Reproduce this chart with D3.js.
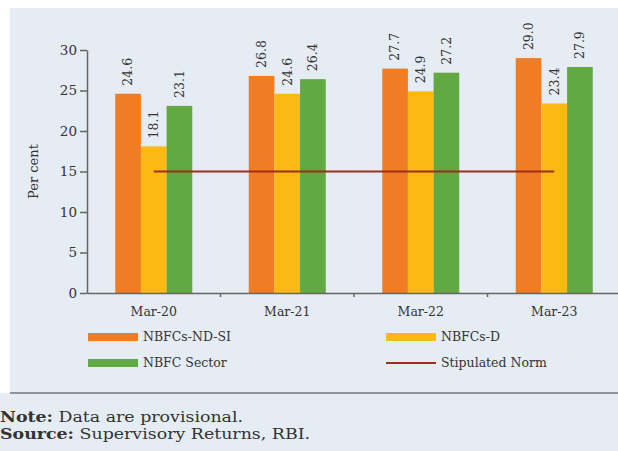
<!DOCTYPE html>
<html>
<head>
<meta charset="utf-8">
<script src="https://cdn.jsdelivr.net/npm/d3@7"></script>
<style>
  body { margin: 0; background: #fff; }
  svg { display: block; }
  text { font-family: "DejaVu Serif", "Liberation Serif", serif; fill: #333; }
</style>
</head>
<body>
<div id="chart"></div>
<script>
const width = 618;
const height = 451;

// data
const periods = ['Mar-20', 'Mar-21', 'Mar-22', 'Mar-23'];
const seriesNames = ['NBFCs-ND-SI', 'NBFCs-D', 'NBFC Sector'];
const ndsi = [24.6, 26.8, 27.7, 29.0];
const nbfcD = [18.1, 24.6, 24.9, 23.4];
const sector = [23.1, 26.4, 27.2, 27.9];
const norm = [15, 15, 15, 15];
const yTicks = [0, 5, 10, 15, 20, 25, 30];

const colors = ['#f07d23', '#fdb913', '#62a843'];
const normColor = '#9c2f18';
const axisColor = '#666';

const rows = periods.map((p, i) => ({ period: p, vals: [ndsi[i], nbfcD[i], sector[i]] }));

const svg = d3.select('#chart')
  .append('svg')
  .attr('width', width)
  .attr('height', height);

// panel background
svg.append('rect')
  .attr('x', 10).attr('y', 8)
  .attr('width', width - 10).attr('height', 385)
  .attr('fill', '#e6ecf3');
svg.append('rect')
  .attr('x', 0).attr('y', 393)
  .attr('width', width).attr('height', height - 393)
  .attr('fill', '#e6ecf3');
svg.append('line')
  .attr('x1', 10).attr('x2', width)
  .attr('y1', 393).attr('y2', 393)
  .attr('stroke', '#8d939b').attr('stroke-width', 2);

const plotL = 87;
const plotR = 621;
const plotT = 50;
const plotB = 293;

const x = d3.scaleBand().domain(periods).range([plotL, plotR]);
const xs = d3.scaleBand().domain(seriesNames).range([0, x.bandwidth()]).paddingOuter(1.1);
const y = d3.scaleLinear().domain([0, 30]).range([plotB, plotT]);

// bars
const groups = svg.selectAll('g.grp').data(rows)
  .enter().append('g')
  .attr('class', 'grp')
  .attr('transform', d => `translate(${x(d.period)},0)`);

groups.selectAll('rect').data(d => d.vals)
  .enter().append('rect')
  .attr('x', (d, i) => xs(seriesNames[i]))
  .attr('width', xs.bandwidth())
  .attr('y', d => y(d))
  .attr('height', d => plotB - y(d))
  .attr('fill', (d, i) => colors[i]);

groups.selectAll('text.val').data(d => d.vals)
  .enter().append('text')
  .attr('class', 'val')
  .attr('transform', (d, i) => `translate(${xs(seriesNames[i]) + xs.bandwidth() / 2},${y(d) - 8}) rotate(-90)`)
  .attr('dy', '0.35em')
  .attr('text-anchor', 'start')
  .style('font-size', '12.5px')
  .text(d => d.toFixed(1));

// stipulated norm line
const line = d3.line()
  .x((d, i) => x(periods[i]) + x.bandwidth() / 2)
  .y(d => y(d));

svg.append('path')
  .datum(norm)
  .attr('d', line)
  .attr('fill', 'none')
  .attr('stroke', normColor)
  .attr('stroke-width', 2);

// axes
const yAxis = d3.axisLeft(y).tickValues(yTicks).tickSize(7).tickPadding(3).tickSizeOuter(0);
const yG = svg.append('g')
  .attr('transform', `translate(${plotL},0)`)
  .call(yAxis);
yG.select('.domain').attr('stroke', axisColor).attr('stroke-width', 1.5);
yG.selectAll('.tick line').attr('stroke', axisColor).attr('stroke-width', 1.5);
yG.selectAll('.tick text')
  .style('font-family', '"DejaVu Serif", serif')
  .style('font-size', '13.5px')
  .attr('fill', '#444');

const xG = svg.append('g')
  .attr('transform', `translate(0,${plotB})`)
  .call(d3.axisBottom(x).tickSize(0).tickSizeOuter(0).tickPadding(14));
xG.select('.domain').attr('stroke', axisColor).attr('stroke-width', 1.5);
xG.selectAll('.tick text')
  .style('font-family', '"DejaVu Serif", serif')
  .style('font-size', '12.5px')
  .attr('fill', '#333');

// separators between categories
xG.selectAll('line.sep').data(periods.slice(1))
  .enter().append('line')
  .attr('class', 'sep')
  .attr('x1', d => x(d)).attr('x2', d => x(d))
  .attr('y1', 0).attr('y2', 4)
  .attr('stroke', axisColor).attr('stroke-width', 1.5);

svg.append('text')
  .attr('transform', `translate(33,${y(15)}) rotate(-90)`)
  .attr('text-anchor', 'middle')
  .attr('dy', '0.35em')
  .style('font-size', '13px')
  .text('Per cent');

// legend
const legend = [
  { name: seriesNames[0], color: colors[0], kind: 'bar', x: 88, y: 337 },
  { name: seriesNames[1], color: colors[1], kind: 'bar', x: 386, y: 337 },
  { name: seriesNames[2], color: colors[2], kind: 'bar', x: 88, y: 363 },
  { name: 'Stipulated Norm', color: normColor, kind: 'line', x: 386, y: 363 }
];

const lg = svg.selectAll('g.lg').data(legend)
  .enter().append('g')
  .attr('class', 'lg')
  .attr('transform', d => `translate(${d.x},${d.y})`);

lg.filter(d => d.kind === 'bar').append('rect')
  .attr('x', 0).attr('y', -4)
  .attr('width', 50).attr('height', 8)
  .attr('fill', d => d.color);
lg.filter(d => d.kind === 'line').append('line')
  .attr('x1', 0).attr('x2', 50)
  .attr('y1', 0).attr('y2', 0)
  .attr('stroke', d => d.color).attr('stroke-width', 2);
lg.append('text')
  .attr('x', 55)
  .attr('dy', '0.35em')
  .style('font-size', '12.5px')
  .text(d => d.name);

// notes
const notes = [
  { bold: 'Note:', rest: ' Data are provisional.' },
  { bold: 'Source:', rest: ' Supervisory Returns, RBI.' }
];
const nt = svg.selectAll('text.note').data(notes)
  .enter().append('text')
  .attr('class', 'note')
  .attr('transform', (d, i) => `translate(0,${422 + i * 17}) scale(1.2,1)`)
  .style('font-size', '14.5px')
  .attr('fill', '#222');
nt.append('tspan').style('font-weight', 'bold').text(d => d.bold);
nt.append('tspan').text(d => d.rest);
</script>
</body>
</html>
